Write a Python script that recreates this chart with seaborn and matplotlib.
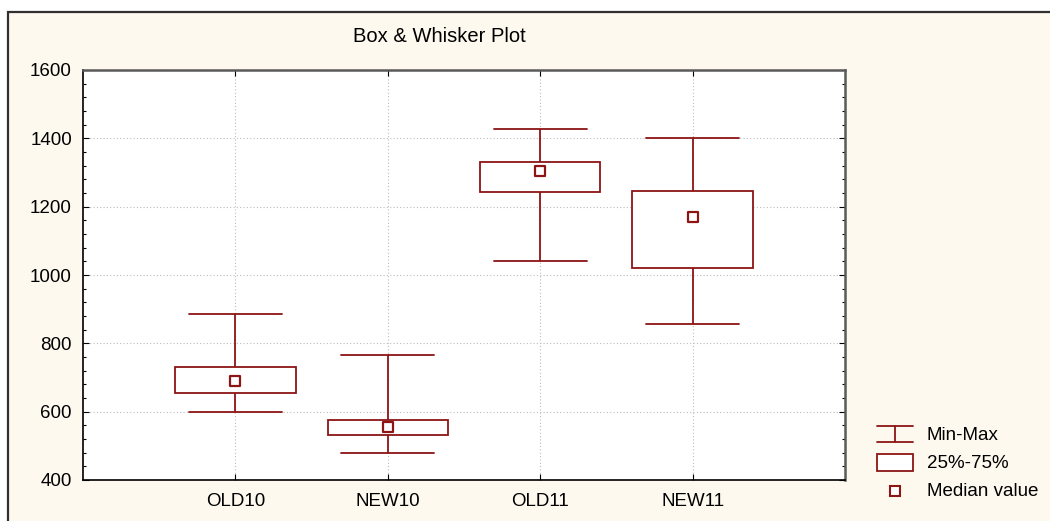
import matplotlib
matplotlib.use("Agg")
import matplotlib.pyplot as plt
from matplotlib.patches import Rectangle
from matplotlib.lines import Line2D
from matplotlib.ticker import MultipleLocator
import numpy as np
import pandas as pd
import seaborn as sns

# Five-number summaries per group
groups = ["OLD10", "NEW10", "OLD11", "NEW11"]
minimum = [600, 480, 1040, 857]
q25 = [654, 532, 1244, 1020]
median = [690, 554, 1303, 1169]
q75 = [730, 575, 1330, 1246]
maximum = [887, 766, 1427, 1402]

title = "Box & Whisker Plot"
legend_labels = ["Min-Max", "25%-75%", "Median value"]

DARK_RED = "#8C1515"
CREAM = "#FEF9EE"

sns.set_style("ticks")
plt.rcParams["font.family"] = ["Liberation Sans", "DejaVu Sans"]
FS = 13.5

# Long-format table: the five summary points of each group; with whiskers at
# the 0th/100th percentiles and linear quantiles these reproduce the summary.
rows = []
for g, a, b, c, d, e in zip(groups, minimum, q25, median, q75, maximum):
    for v in (a, b, c, d, e):
        rows.append({"group": g, "value": v})
df = pd.DataFrame(rows)
med_df = pd.DataFrame({"group": groups, "value": median})

W, H = 1050, 521
fig = plt.figure(figsize=(W / 100, H / 100), dpi=100)
fig.patch.set_facecolor("white")

# Background layer in pixel coordinates (frame, title, legend)
bg = fig.add_axes([0, 0, 1, 1], zorder=0)
bg.set_xlim(0, W)
bg.set_ylim(H, 0)
bg.axis("off")
bg.add_patch(Rectangle((8, 12), W + 20, H + 20, facecolor=CREAM,
                       edgecolor="#303030", linewidth=1.6))
bg.text(353, 37, title, fontsize=14.5, ha="left", va="center", color="black")

# Main plotting axes
x0, x1, ytop, ybot = 83, 845, 70, 480
ax = fig.add_axes([x0 / W, (H - ybot) / H, (x1 - x0) / W, (ybot - ytop) / H],
                  zorder=1)
ax.set_facecolor("white")

sns.boxplot(data=df, x="group", y="value", order=groups, whis=(0, 100),
            width=0.79, color="white", linecolor=DARK_RED, linewidth=1.3,
            medianprops={"visible": False}, capwidths=0.61, ax=ax,
            zorder=3)
sns.stripplot(data=med_df, x="group", y="value", order=groups, jitter=False,
              marker="s", size=7, color="white", edgecolor=DARK_RED,
              linewidth=1.6, ax=ax, zorder=5)

ax.set_xlim(-1, 4)
ax.set_ylim(400, 1600)
ax.set_xlabel("")
ax.set_ylabel("")
ax.set_xticks(range(len(groups)))
ax.set_xticklabels(groups)
ax.yaxis.set_major_locator(MultipleLocator(200))
ax.yaxis.set_minor_locator(MultipleLocator(40))

ax.grid(True, which="major", color="#BDBDBD", linestyle=(0, (1, 2)),
        linewidth=0.8, zorder=0)
ax.set_axisbelow(True)

ax.tick_params(axis="both", which="both", direction="in", colors="black",
               labelsize=FS)
ax.tick_params(axis="y", which="major", length=4, width=0.8, left=True,
               right=True, pad=8)
ax.tick_params(axis="y", which="minor", length=2.5, width=0.8, left=True,
               right=True)
ax.tick_params(axis="x", which="major", length=4, width=0.8, bottom=True,
               top=True, pad=9)

for side in ("left", "bottom"):
    ax.spines[side].set_color("black")
    ax.spines[side].set_linewidth(1.2)
for side in ("top", "right"):
    ax.spines[side].set_color("#5A5A5A")
    ax.spines[side].set_linewidth(1.8)
    ax.spines[side].set_visible(True)

# Legend symbols
lx0, lx1, lxc = 877, 913, 895
bg.add_line(Line2D([lx0, lx1], [426, 426], color=DARK_RED, linewidth=1.3))
bg.add_line(Line2D([lx0, lx1], [442, 442], color=DARK_RED, linewidth=1.3))
bg.add_line(Line2D([lxc, lxc], [426, 442], color=DARK_RED, linewidth=1.3))
bg.add_patch(Rectangle((lx0, 454), lx1 - lx0, 16.5, facecolor="white",
                       edgecolor=DARK_RED, linewidth=1.3))
bg.add_line(Line2D([894.5], [490.5], marker="s", markersize=6.5,
                   markerfacecolor="white", markeredgecolor=DARK_RED,
                   markeredgewidth=1.5, linestyle="none"))
for y, lab in zip([435, 463, 491], legend_labels):
    bg.text(927, y, lab, fontsize=FS, ha="left", va="center", color="black")

fig.savefig("out.png", dpi=100)
